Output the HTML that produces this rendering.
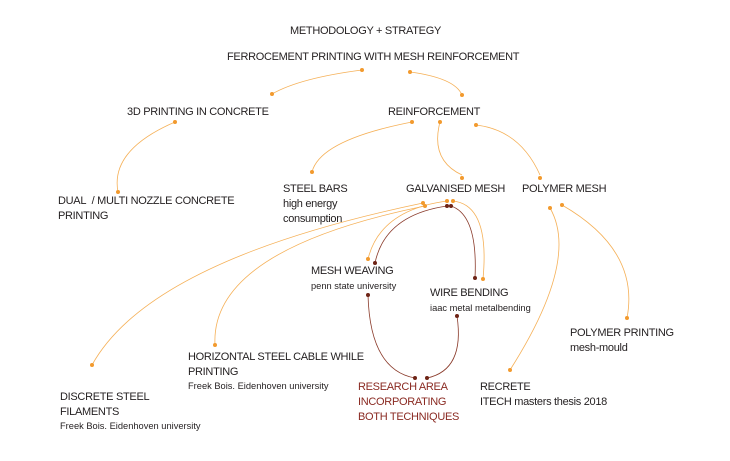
<!DOCTYPE html>
<html><head><style>
body{margin:0;background:#fff;width:730px;height:461px;overflow:hidden;position:relative;font-family:"Liberation Sans",sans-serif;color:#231f20}
.t{position:absolute;font-size:11px;white-space:nowrap;line-height:15px;letter-spacing:-0.3px}
.s{font-size:9.3px;line-height:12px;letter-spacing:0}
.r{color:#8a2a22}
svg{position:absolute;left:0;top:0}
</style></head><body>
<svg width="730" height="461" fill="none" stroke-width="0.8">
<g stroke="#f5b057">
<path d="M362,70 Q300,78 272,94"/>
<path d="M410,72 Q455,78 462,95"/>
<path d="M175,122 Q110,150 118,192"/>
<path d="M412,122 Q320,140 312,172"/>
<path d="M440,122 Q430,160 462,175"/>
<path d="M476,125 Q520,130 540,175"/>
<path d="M423,203 Q150,260 92,365"/>
<path d="M425,206 Q210,250 215,345"/>
<path d="M447,201 Q380,210 368,259"/>
<path d="M453,201 Q490,205 483,279"/>
<path d="M550,208 Q580,260 510,370"/>
<path d="M562,205 Q640,250 627,318"/>
</g>
<g stroke="#8a3a2a">
<path d="M447,206 Q385,215 375,263"/>
<path d="M451,206 Q478,215 475,278"/>
<path d="M368,295 Q370,370 415,378"/>
<path d="M457,316 Q465,370 427,378"/>
</g>
<g fill="#f29a2e">
<circle cx="362" cy="70" r="2"/><circle cx="272" cy="94" r="2"/><circle cx="410" cy="72" r="2"/><circle cx="462" cy="95" r="2"/>
<circle cx="175" cy="122" r="2"/><circle cx="118" cy="192" r="2"/><circle cx="412" cy="122" r="2"/><circle cx="312" cy="172" r="2"/>
<circle cx="440" cy="122" r="2"/><circle cx="462" cy="178" r="2"/><circle cx="476" cy="125" r="2"/><circle cx="540" cy="178" r="2"/>
<circle cx="423" cy="203" r="2"/><circle cx="425" cy="206" r="2"/><circle cx="92" cy="365" r="2"/><circle cx="215" cy="345" r="2"/>
<circle cx="447" cy="201" r="2"/><circle cx="453" cy="201" r="2"/><circle cx="368" cy="259" r="2"/><circle cx="483" cy="279" r="2"/>
<circle cx="550" cy="208" r="2"/><circle cx="562" cy="205" r="2"/><circle cx="510" cy="370" r="2"/><circle cx="627" cy="318" r="2"/>
</g>
<g fill="#6e2416">
<circle cx="447" cy="206" r="2"/><circle cx="451" cy="206" r="2"/><circle cx="375" cy="263" r="2"/><circle cx="475" cy="278" r="2"/>
<circle cx="368" cy="295" r="2"/><circle cx="457" cy="316" r="2"/><circle cx="415" cy="378" r="2"/><circle cx="427" cy="378" r="2"/>
</g>
</svg>
<div class="t" style="left:290px;top:24px">METHODOLOGY + STRATEGY</div>
<div class="t" style="left:227px;top:50px">FERROCEMENT PRINTING WITH MESH REINFORCEMENT</div>
<div class="t" style="left:127px;top:105px">3D PRINTING IN CONCRETE</div>
<div class="t" style="left:388px;top:105px">REINFORCEMENT</div>
<div class="t" style="left:58px;top:194px">DUAL&nbsp; / MULTI NOZZLE CONCRETE<br>PRINTING</div>
<div class="t" style="left:283px;top:182px">STEEL BARS<br>high energy<br>consumption</div>
<div class="t" style="left:406px;top:182px">GALVANISED MESH</div>
<div class="t" style="left:522px;top:182px">POLYMER MESH</div>
<div class="t" style="left:311px;top:264px">MESH WEAVING</div>
<div class="t s" style="left:311px;top:280px">penn state university</div>
<div class="t" style="left:430px;top:286px">WIRE BENDING</div>
<div class="t s" style="left:430px;top:302px">iaac metal metalbending</div>
<div class="t" style="left:570px;top:326px">POLYMER PRINTING<br>mesh-mould</div>
<div class="t" style="left:188px;top:350px">HORIZONTAL STEEL CABLE WHILE<br>PRINTING</div>
<div class="t s" style="left:188px;top:380px">Freek Bois. Eidenhoven university</div>
<div class="t r" style="left:358px;top:380px">RESEARCH AREA<br>INCORPORATING<br>BOTH TECHNIQUES</div>
<div class="t" style="left:480px;top:380px">RECRETE<br>ITECH masters thesis 2018</div>
<div class="t" style="left:60px;top:390px">DISCRETE STEEL<br>FILAMENTS</div>
<div class="t s" style="left:60px;top:420px">Freek Bois. Eidenhoven university</div>
</body></html>
